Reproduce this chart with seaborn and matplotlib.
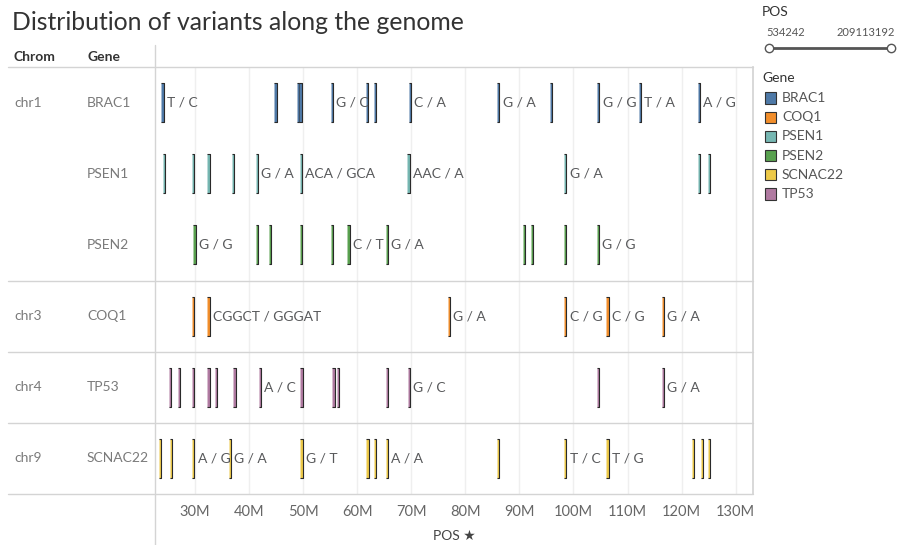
#!/usr/bin/env python3
import numpy as np
import pandas as pd
import matplotlib
matplotlib.use("Agg")
import matplotlib.pyplot as plt
from matplotlib.lines import Line2D
from matplotlib.patches import Rectangle
import seaborn as sns

# rows of the chart (chromosome, gene)
row_chrom = ["chr1", "", "", "chr3", "chr4", "chr9"]
row_gene = ["BRAC1", "PSEN1", "PSEN2", "COQ1", "TP53", "SCNAC22"]

# variant positions (millions of bp) and their REF/ALT labels, one list per gene
brac1_pos = [24.0, 44.9, 49.1, 49.5, 55.3, 61.8, 63.3, 69.7, 86.1, 95.8, 104.6, 112.3, 123.2]
brac1_lab = ["T/C", "", "", "", "G/C", "", "", "C/A", "G/A", "", "G/G", "T/A", "A/G"]
psen1_pos = [24.3, 29.7, 32.5, 37.1, 41.4, 49.6, 69.5, 98.5, 123.2, 125.1]
psen1_lab = ["", "", "", "", "G/A", "ACA/GCA", "AAC/A", "G/A", "", ""]
psen2_pos = [29.9, 41.4, 43.8, 49.6, 55.4, 58.4, 65.5, 90.9, 92.4, 98.5, 104.5]
psen2_lab = ["G/G", "", "", "", "", "C/T", "G/A", "", "", "", "G/G"]
coq1_pos = [29.7, 32.5, 77.0, 98.5, 106.3, 116.6]
coq1_lab = ["", "CGGCT/GGGAT", "G/A", "C/G", "C/G", "G/A"]
tp53_pos = [25.4, 27.1, 29.7, 32.5, 33.9, 37.3, 42.0, 49.7, 55.6, 56.5, 65.5, 69.6, 104.5, 116.6]
tp53_lab = ["", "", "", "", "", "", "A/C", "", "", "", "", "G/C", "", "G/A"]
scnac22_pos = [23.5, 25.6, 29.7, 36.5, 49.7, 61.9, 63.3, 65.5, 86.1, 98.5, 106.3, 122.1, 123.7, 125.1]
scnac22_lab = ["", "", "A/G", "G/A", "G/T", "", "", "A/A", "", "T/C", "T/G", "", "", ""]

legend_genes = ["BRAC1", "COQ1", "PSEN1", "PSEN2", "SCNAC22", "TP53"]
gene_colors = ["#4e79a7", "#f28e2b", "#76b7b2", "#59a14f", "#edc948", "#b07aa1"]
pos_range = ["534242", "209113192"]

frames = []
for g, p, l in [("BRAC1", brac1_pos, brac1_lab), ("PSEN1", psen1_pos, psen1_lab),
                ("PSEN2", psen2_pos, psen2_lab), ("COQ1", coq1_pos, coq1_lab),
                ("TP53", tp53_pos, tp53_lab), ("SCNAC22", scnac22_pos, scnac22_lab)]:
    frames.append(pd.DataFrame({"gene": g, "pos": np.array(p) * 1e6, "label": l}))
df = pd.concat(frames, ignore_index=True)
df["row"] = df["gene"].map({g: i for i, g in enumerate(row_gene)})
palette = dict(zip(legend_genes, gene_colors))

sns.set_theme(style="white")
plt.rcParams["font.family"] = ["Lato", "DejaVu Sans"]

W, H = 898, 545
fig = plt.figure(figsize=(W / 100, H / 100), dpi=100)
L, R, T, B = 155, 753, 67, 494
ax = fig.add_axes([L / W, 1 - B / H, (R - L) / W, (B - T) / H])

# tall thin bar marker
bar = [(-0.028, -0.5), (0.028, -0.5), (0.028, 0.5), (-0.028, 0.5)]
sns.scatterplot(data=df, x="pos", y="row", hue="gene", palette=palette,
                marker=bar, s=790, edgecolor="#2a2a2a", linewidth=0.8,
                legend=False, ax=ax, zorder=3)

for _, r in df.iterrows():
    if r["label"]:
        ax.annotate(r["label"].replace("/", " / "), (r["pos"], r["row"]),
                    xytext=(3, 0), textcoords="offset points", va="center",
                    ha="left", fontsize=10, color="#58595b", zorder=4)

ax.set_xlim(22.6e6, 133.2e6)
ax.set_ylim(5.5, -0.5)
ticks = np.arange(30e6, 131e6, 10e6)
ax.set_xticks(ticks)
ax.set_xticklabels([f"{int(t / 1e6)}M" for t in ticks], fontsize=10.5, color="#666666")
ax.set_yticks([])
ax.tick_params(axis="x", length=0, pad=8)
for t in ticks:
    ax.axvline(t, color="#efefef", lw=1, zorder=0)
for s in ["top", "bottom", "left"]:
    ax.spines[s].set_visible(False)
ax.spines["right"].set_color("#d4d4d4")
ax.set_xlabel("POS \u2605", fontsize=10, color="#444444", labelpad=8)
ax.set_ylabel("")

# row labels and separators
for i in range(len(row_gene)):
    y = 1 - (T + (i + 0.5) * (B - T) / 6) / H
    fig.text(14 / W, y, row_chrom[i], fontsize=10, color="#7a7a7a", va="center")
    fig.text(87 / W, y, row_gene[i], fontsize=10, color="#7a7a7a", va="center")
for i in [0, 3, 4, 5, 6]:
    y = 1 - (T + i * (B - T) / 6) / H
    fig.add_artist(Line2D([8 / W, R / W], [y, y], color="#d4d4d4", lw=1))
fig.add_artist(Line2D([L / W, L / W], [0, 1 - 45 / H], color="#d4d4d4", lw=1))

fig.text(14 / W, 1 - 57 / H, "Chrom", fontsize=10, color="#333333", va="center", weight="bold")
fig.text(87 / W, 1 - 57 / H, "Gene", fontsize=10, color="#333333", va="center", weight="bold")
fig.text(12 / W, 1 - 22 / H, "Distribution of variants along the genome",
         fontsize=17.8, color="#333333", va="center")

# POS filter slider
fig.text(762 / W, 1 - 12 / H, "POS", fontsize=10, color="#333333", va="center")
fig.text(766 / W, 1 - 33 / H, pos_range[0], fontsize=8, color="#555555", va="center")
fig.text(895 / W, 1 - 33 / H, pos_range[1], fontsize=8, color="#555555", va="center", ha="right")
fig.add_artist(Line2D([769 / W, 891 / W], [1 - 48 / H] * 2, color="#555555", lw=2))
fig.add_artist(Line2D([769 / W, 891 / W], [1 - 48 / H] * 2, marker="o", ls="none",
                      mfc="white", mec="#555555", ms=6))

# gene legend
fig.text(762 / W, 1 - 78 / H, "Gene", fontsize=10, color="#333333", va="center")
for i, (g, c) in enumerate(zip(legend_genes, gene_colors)):
    y = 98 + i * 19.2
    fig.add_artist(Rectangle((765 / W, 1 - (y + 5.5) / H), 11 / W, 11 / H,
                             facecolor=c, edgecolor="#333333", lw=0.8))
    fig.text(782 / W, 1 - y / H, g, fontsize=10, color="#555555", va="center")

fig.savefig("out.png", dpi=100)
